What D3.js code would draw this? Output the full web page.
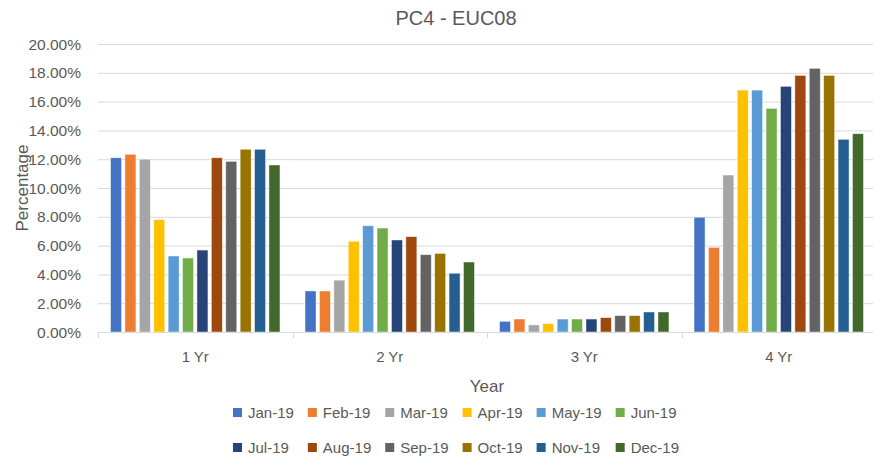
<!DOCTYPE html>
<meta charset="utf-8">
<body style="margin:0;background:#fff">
<script src="https://d3js.org/d3.v7.min.js"></script>
<script>
// chart values (percent)
var categories = ["1 Yr", "2 Yr", "3 Yr", "4 Yr"];
var months = ["Jan-19", "Feb-19", "Mar-19", "Apr-19", "May-19", "Jun-19",
              "Jul-19", "Aug-19", "Sep-19", "Oct-19", "Nov-19", "Dec-19"];
var yr1 = [12.10, 12.34, 12.00, 7.80, 5.28, 5.14, 5.69, 12.10, 11.85, 12.69, 12.69, 11.60];
var yr2 = [2.85, 2.85, 3.60, 6.30, 7.38, 7.22, 6.39, 6.62, 5.37, 5.46, 4.08, 4.86];
var yr3 = [0.74, 0.90, 0.49, 0.58, 0.90, 0.90, 0.90, 1.00, 1.14, 1.14, 1.39, 1.39];
var yr4 = [7.97, 5.88, 10.90, 16.80, 16.80, 15.53, 17.06, 17.82, 18.31, 17.82, 13.38, 13.77];
var yTicks = [0, 2, 4, 6, 8, 10, 12, 14, 16, 18, 20];
var colors = ["#4472C4", "#ED7D31", "#A5A5A5", "#FFC000", "#5B9BD5", "#70AD47",
              "#264478", "#9E480E", "#636363", "#997300", "#255E91", "#43682B"];

var series = [yr1, yr2, yr3, yr4];

var width = 873,
    height = 460,
    plotLeft = 98,
    plotRight = 876,
    plotTop = 44,
    plotBottom = 332,
    textColor = "#595959",
    font = "'Liberation Sans', Arial, sans-serif";

var svg = d3.select("body").append("svg")
    .attr("width", width)
    .attr("height", height)
    .style("font-family", font);

var x0 = d3.scaleBand()
    .domain(categories)
    .range([plotLeft, plotRight]);

var x1 = d3.scaleBand()
    .domain(months)
    .range([0, x0.bandwidth()])
    .paddingInner(0.236)
    .paddingOuter(0.87);

var y = d3.scaleLinear()
    .domain([0, 20])
    .range([plotBottom, plotTop]);

// gridlines
svg.append("g")
  .selectAll("line")
  .data(yTicks)
  .enter().append("line")
    .attr("x1", plotLeft)
    .attr("x2", plotRight)
    .attr("y1", function(d) { return y(d) + 0.5; })
    .attr("y2", function(d) { return y(d) + 0.5; })
    .attr("stroke", "#d9d9d9")
    .attr("stroke-width", 1);

// y tick labels
svg.append("g")
  .selectAll("text")
  .data(yTicks)
  .enter().append("text")
    .attr("x", 81)
    .attr("y", function(d) { return y(d) + 5.5; })
    .attr("text-anchor", "end")
    .attr("font-size", 15.5)
    .attr("fill", textColor)
    .text(function(d) { return d.toFixed(2) + "%"; });

// bars
var groups = svg.append("g")
  .selectAll("g")
  .data(categories)
  .enter().append("g")
    .attr("transform", function(d) { return "translate(" + x0(d) + ",0)"; });

groups.selectAll("rect")
  .data(function(d, i) {
    return months.map(function(m, j) { return {month: m, value: series[i][j], idx: j}; });
  })
  .enter().append("rect")
    .attr("x", function(d) { return x1(d.month); })
    .attr("y", function(d) { return y(d.value); })
    .attr("width", x1.bandwidth())
    .attr("height", function(d) { return plotBottom - y(d.value); })
    .attr("fill", function(d) { return colors[d.idx]; })
    .attr("stroke", "#ffffff")
    .attr("stroke-opacity", 0.6)
    .attr("stroke-width", 0.75);

// category axis
var xAxis = svg.append("g");
xAxis.append("line")
    .attr("x1", plotLeft)
    .attr("x2", plotRight)
    .attr("y1", plotBottom + 0.5)
    .attr("y2", plotBottom + 0.5)
    .attr("stroke", "#d9d9d9");

var boundaries = categories.map(function(c) { return x0(c); }).concat([plotRight]);
xAxis.selectAll(".tick")
  .data(boundaries)
  .enter().append("line")
    .attr("class", "tick")
    .attr("x1", function(d) { return Math.round(d) + 0.5; })
    .attr("x2", function(d) { return Math.round(d) + 0.5; })
    .attr("y1", plotBottom)
    .attr("y2", plotBottom + 6)
    .attr("stroke", "#d9d9d9");

xAxis.selectAll("text")
  .data(categories)
  .enter().append("text")
    .attr("x", function(d) { return x0(d) + x0.bandwidth() / 2; })
    .attr("y", 362)
    .attr("text-anchor", "middle")
    .attr("font-size", 15)
    .attr("fill", textColor)
    .text(function(d) { return d; });

// title and axis titles
svg.append("text")
    .attr("x", 456)
    .attr("y", 25)
    .attr("text-anchor", "middle")
    .attr("font-size", 20)
    .attr("fill", textColor)
    .text("PC4 - EUC08");

svg.append("text")
    .attr("x", (plotLeft + plotRight) / 2)
    .attr("y", 392)
    .attr("text-anchor", "middle")
    .attr("font-size", 17)
    .attr("fill", textColor)
    .text("Year");

svg.append("text")
    .attr("transform", "translate(28," + (plotTop + plotBottom) / 2 + ")rotate(-90)")
    .attr("text-anchor", "middle")
    .attr("font-size", 17)
    .attr("fill", textColor)
    .text("Percentage");

// legend: two rows of six, columns shared
var legend = svg.append("g");
var perRow = 6;
var items = legend.selectAll("g")
  .data(months)
  .enter().append("g");

items.append("rect")
    .attr("width", 9)
    .attr("height", 9)
    .attr("fill", function(d, i) { return colors[i]; });

items.append("text")
    .attr("x", 15)
    .attr("y", 9.5)
    .attr("font-size", 15)
    .attr("fill", textColor)
    .text(function(d) { return d; });

var colW = [];
items.each(function(d, i) {
  var w = d3.select(this).select("text").node().getComputedTextLength();
  var c = i % perRow;
  colW[c] = Math.max(colW[c] || 0, w);
});
var colX = [], acc = 0;
colW.forEach(function(w, c) {
  colX[c] = acc;
  acc += 15 + w + (c < perRow - 1 ? 14 : 0);
});
var legStart = 456 - acc / 2;
items.attr("transform", function(d, i) {
  var c = i % perRow, r = Math.floor(i / perRow);
  return "translate(" + (legStart + colX[c]) + "," + (408 + r * 35) + ")";
});
</script>
</body>
